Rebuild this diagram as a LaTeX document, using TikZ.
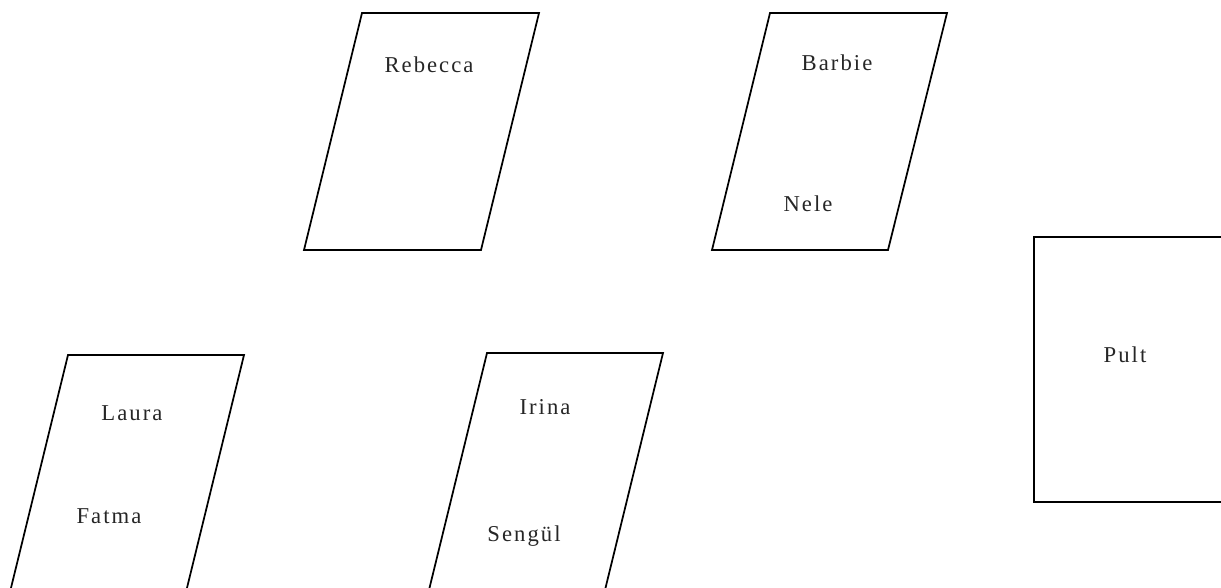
\documentclass[tikz,border=0pt]{standalone}
\usepackage{fontspec}
\setmainfont{Liberation Serif}[LetterSpace=9]
\begin{document}
\begin{tikzpicture}[x=0.75pt,y=-0.75pt,
  seat/.style={draw=black,line width=1.3pt,line join=miter},
  lbl/.style={anchor=base,inner sep=0pt,font=\fontsize{17}{20}\selectfont,text=black!85}]
\useasboundingbox (0,0) rectangle (1221,588);
\clip (0,0) rectangle (1221,588);
% tables
\draw[seat] (362,13) -- (539,13) -- (481,250) -- (304,250) -- cycle;
\draw[seat] (770,13) -- (947,13) -- (888,250) -- (712,250) -- cycle;
\draw[seat] (68,355) -- (244,355) -- (186,592) -- (10,592) -- cycle;
\draw[seat] (487,353) -- (663,353) -- (605,590) -- (429,590) -- cycle;
\draw[seat] (1034,237) rectangle (1240,502);
% names
\node[lbl] (rebecca) at (429,73) {Rebecca};
\node[lbl] (barbie) at (837,71) {Barbie};
\node[lbl] (nele) at (808,212) {Nele};
\node[lbl] (laura) at (132,420) {Laura};
\node[lbl] (fatma) at (109,523) {Fatma};
\node[lbl] (irina) at (545,414) {Irina};
\node[lbl] (senguel) at (524,541) {Sengül};
\node[lbl] (pult) at (1125,362) {Pult};
\end{tikzpicture}
\end{document}
